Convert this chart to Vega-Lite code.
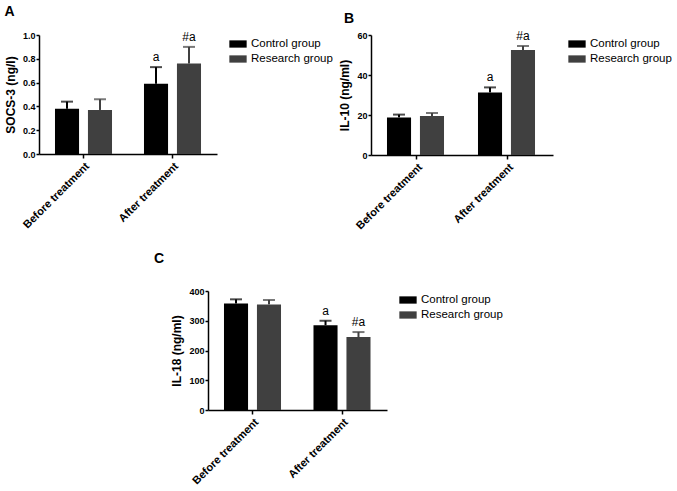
{
  "$schema": "https://vega.github.io/schema/vega-lite/v6.json",
  "padding": {"left": 4, "top": 4, "right": 2, "bottom": 0},
  "datasets": {
    "A": [
      {"time": "Before treatment", "group": "Control group", "mean": 0.38, "upper": 0.44, "label": ""},
      {"time": "Before treatment", "group": "Research group", "mean": 0.37, "upper": 0.46, "label": ""},
      {"time": "After treatment", "group": "Control group", "mean": 0.59, "upper": 0.73, "label": "a"},
      {"time": "After treatment", "group": "Research group", "mean": 0.76, "upper": 0.90, "label": "#a"}
    ],
    "B": [
      {"time": "Before treatment", "group": "Control group", "mean": 18.8, "upper": 20.2, "label": ""},
      {"time": "Before treatment", "group": "Research group", "mean": 19.5, "upper": 21.0, "label": ""},
      {"time": "After treatment", "group": "Control group", "mean": 31.3, "upper": 33.8, "label": "a"},
      {"time": "After treatment", "group": "Research group", "mean": 52.5, "upper": 54.5, "label": "#a"}
    ],
    "C": [
      {"time": "Before treatment", "group": "Control group", "mean": 358, "upper": 372, "label": ""},
      {"time": "Before treatment", "group": "Research group", "mean": 355, "upper": 370, "label": ""},
      {"time": "After treatment", "group": "Control group", "mean": 285, "upper": 300, "label": "a"},
      {"time": "After treatment", "group": "Research group", "mean": 245, "upper": 262, "label": "#a"}
    ]
  },
  "config": {
    "font": "Liberation Sans",
    "view": {"stroke": null},
    "title": {"fontSize": 14, "fontWeight": "bold", "anchor": "start", "frame": "bounds", "color": "black", "offset": 12},
    "axis": {
      "domainColor": "black", "domainWidth": 1.5, "tickColor": "black", "tickWidth": 1.5,
      "labelColor": "black", "titleColor": "black", "labelFontWeight": "bold", "titleFontWeight": "bold", "grid": false, "labelOverlap": false
    },
    "axisX": {"labelAngle": -45, "labelFontSize": 11, "tickSize": 4, "labelPadding": 2},
    "axisY": {"labelFontSize": 9, "tickSize": 3, "labelPadding": 1, "titleFontSize": 12, "titlePadding": 5},
    "legend": {
      "title": null, "labelFontSize": 11.5, "labelColor": "black", "orient": "right", "offset": 12,
      "symbolType": "M-1,-0.42H1V0.42H-1Z", "symbolSize": 300, "symbolStrokeWidth": 0, "symbolOpacity": 1, "labelOffset": 4, "rowPadding": -4
    }
  },
  "resolve": {"scale": {"color": "independent"}, "legend": {"color": "independent"}},
  "vconcat": [
    {
      "resolve": {"scale": {"color": "independent"}, "legend": {"color": "independent"}},
      "hconcat": [
        {
          "title": {"text": "A", "offset": 12},
          "width": 178, "height": 119,
          "data": {"name": "A"},
          "encoding": {
            "x": {"field": "time", "type": "nominal", "sort": ["Before treatment", "After treatment"], "scale": {"paddingInner": 0, "paddingOuter": 0}, "title": null},
            "xOffset": {"field": "group", "type": "nominal", "sort": ["Control group", "Research group"], "scale": {"paddingInner": 0.27, "paddingOuter": 0.485}},
            "color": {"field": "group", "type": "nominal", "scale": {"domain": ["Control group", "Research group"], "range": ["#000000", "#404040"]}}
          },
          "layer": [
            {"mark": {"type": "bar"}, "encoding": {"y": {"field": "mean", "type": "quantitative", "scale": {"domain": [0, 1]}, "axis": {"values": [0, 0.2, 0.4, 0.6, 0.8, 1.0], "format": ".1f", "labelOverlap": false, "tickCount": 6}, "title": "SOCS-3 (ng/l)"}}},
            {"mark": {"type": "rule", "strokeWidth": 2}, "encoding": {"y": {"field": "mean", "type": "quantitative", "axis": {"values": [0, 0.2, 0.4, 0.6, 0.8, 1.0], "format": ".1f", "labelOverlap": false, "tickCount": 6}, "title": "SOCS-3 (ng/l)"}, "y2": {"field": "upper"}}},
            {"mark": {"type": "tick", "orient": "horizontal", "size": 12, "thickness": 2}, "encoding": {"y": {"field": "upper", "type": "quantitative", "axis": {"values": [0, 0.2, 0.4, 0.6, 0.8, 1.0], "format": ".1f", "labelOverlap": false, "tickCount": 6}, "title": "SOCS-3 (ng/l)"}}},
            {"mark": {"type": "text", "dy": -3, "baseline": "bottom", "fontSize": 12, "color": "black"}, "encoding": {"y": {"field": "upper", "type": "quantitative", "axis": {"values": [0, 0.2, 0.4, 0.6, 0.8, 1.0], "format": ".1f", "labelOverlap": false, "tickCount": 6}, "title": "SOCS-3 (ng/l)"}, "text": {"field": "label"}, "color": {"value": "black"}}}
          ]
        },
        {
          "title": {"text": "B", "offset": 4, "dx": 5},
          "width": 182, "height": 120,
          "data": {"name": "B"},
          "encoding": {
            "x": {"field": "time", "type": "nominal", "sort": ["Before treatment", "After treatment"], "scale": {"paddingInner": 0, "paddingOuter": 0}, "title": null},
            "xOffset": {"field": "group", "type": "nominal", "sort": ["Control group", "Research group"], "scale": {"paddingInner": 0.27, "paddingOuter": 0.485}},
            "color": {"field": "group", "type": "nominal", "scale": {"domain": ["Control group", "Research group"], "range": ["#000000", "#404040"]}, "legend": {"offset": 15}}
          },
          "layer": [
            {"mark": {"type": "bar"}, "encoding": {"y": {"field": "mean", "type": "quantitative", "scale": {"domain": [0, 60]}, "axis": {"values": [0, 20, 40, 60], "labelOverlap": false, "tickCount": 4}, "title": "IL-10 (ng/ml)"}}},
            {"mark": {"type": "rule", "strokeWidth": 2}, "encoding": {"y": {"field": "mean", "type": "quantitative", "axis": {"values": [0, 20, 40, 60], "labelOverlap": false, "tickCount": 4}, "title": "IL-10 (ng/ml)"}, "y2": {"field": "upper"}}},
            {"mark": {"type": "tick", "orient": "horizontal", "size": 12, "thickness": 2}, "encoding": {"y": {"field": "upper", "type": "quantitative", "axis": {"values": [0, 20, 40, 60], "labelOverlap": false, "tickCount": 4}, "title": "IL-10 (ng/ml)"}}},
            {"mark": {"type": "text", "dy": -3, "baseline": "bottom", "fontSize": 12, "color": "black"}, "encoding": {"y": {"field": "upper", "type": "quantitative", "axis": {"values": [0, 20, 40, 60], "labelOverlap": false, "tickCount": 4}, "title": "IL-10 (ng/ml)"}, "text": {"field": "label"}, "color": {"value": "black"}}}
          ]
        }
      ],
      "spacing": 5
    },
    {
      "title": {"text": "C", "offset": 17, "dx": -17},
      "width": 179, "height": 119,
      "data": {"name": "C"},
      "encoding": {
        "x": {"field": "time", "type": "nominal", "sort": ["Before treatment", "After treatment"], "scale": {"paddingInner": 0, "paddingOuter": 0}, "title": null},
        "xOffset": {"field": "group", "type": "nominal", "sort": ["Control group", "Research group"], "scale": {"paddingInner": 0.27, "paddingOuter": 0.485}},
        "color": {"field": "group", "type": "nominal", "scale": {"domain": ["Control group", "Research group"], "range": ["#000000", "#404040"]}}
      },
      "layer": [
        {"mark": {"type": "bar"}, "encoding": {"y": {"field": "mean", "type": "quantitative", "scale": {"domain": [0, 400]}, "axis": {"values": [0, 100, 200, 300, 400], "labelOverlap": false, "tickCount": 5}, "title": "IL-18 (ng/ml)"}}},
        {"mark": {"type": "rule", "strokeWidth": 2}, "encoding": {"y": {"field": "mean", "type": "quantitative", "axis": {"values": [0, 100, 200, 300, 400], "labelOverlap": false, "tickCount": 5}, "title": "IL-18 (ng/ml)"}, "y2": {"field": "upper"}}},
        {"mark": {"type": "tick", "orient": "horizontal", "size": 12, "thickness": 2}, "encoding": {"y": {"field": "upper", "type": "quantitative", "axis": {"values": [0, 100, 200, 300, 400], "labelOverlap": false, "tickCount": 5}, "title": "IL-18 (ng/ml)"}}},
        {"mark": {"type": "text", "dy": -3, "baseline": "bottom", "fontSize": 12, "color": "black"}, "encoding": {"y": {"field": "upper", "type": "quantitative", "axis": {"values": [0, 100, 200, 300, 400], "labelOverlap": false, "tickCount": 5}, "title": "IL-18 (ng/ml)"}, "text": {"field": "label"}, "color": {"value": "black"}}}
      ]
    }
  ],
  "spacing": 20,
  "center": true
}
